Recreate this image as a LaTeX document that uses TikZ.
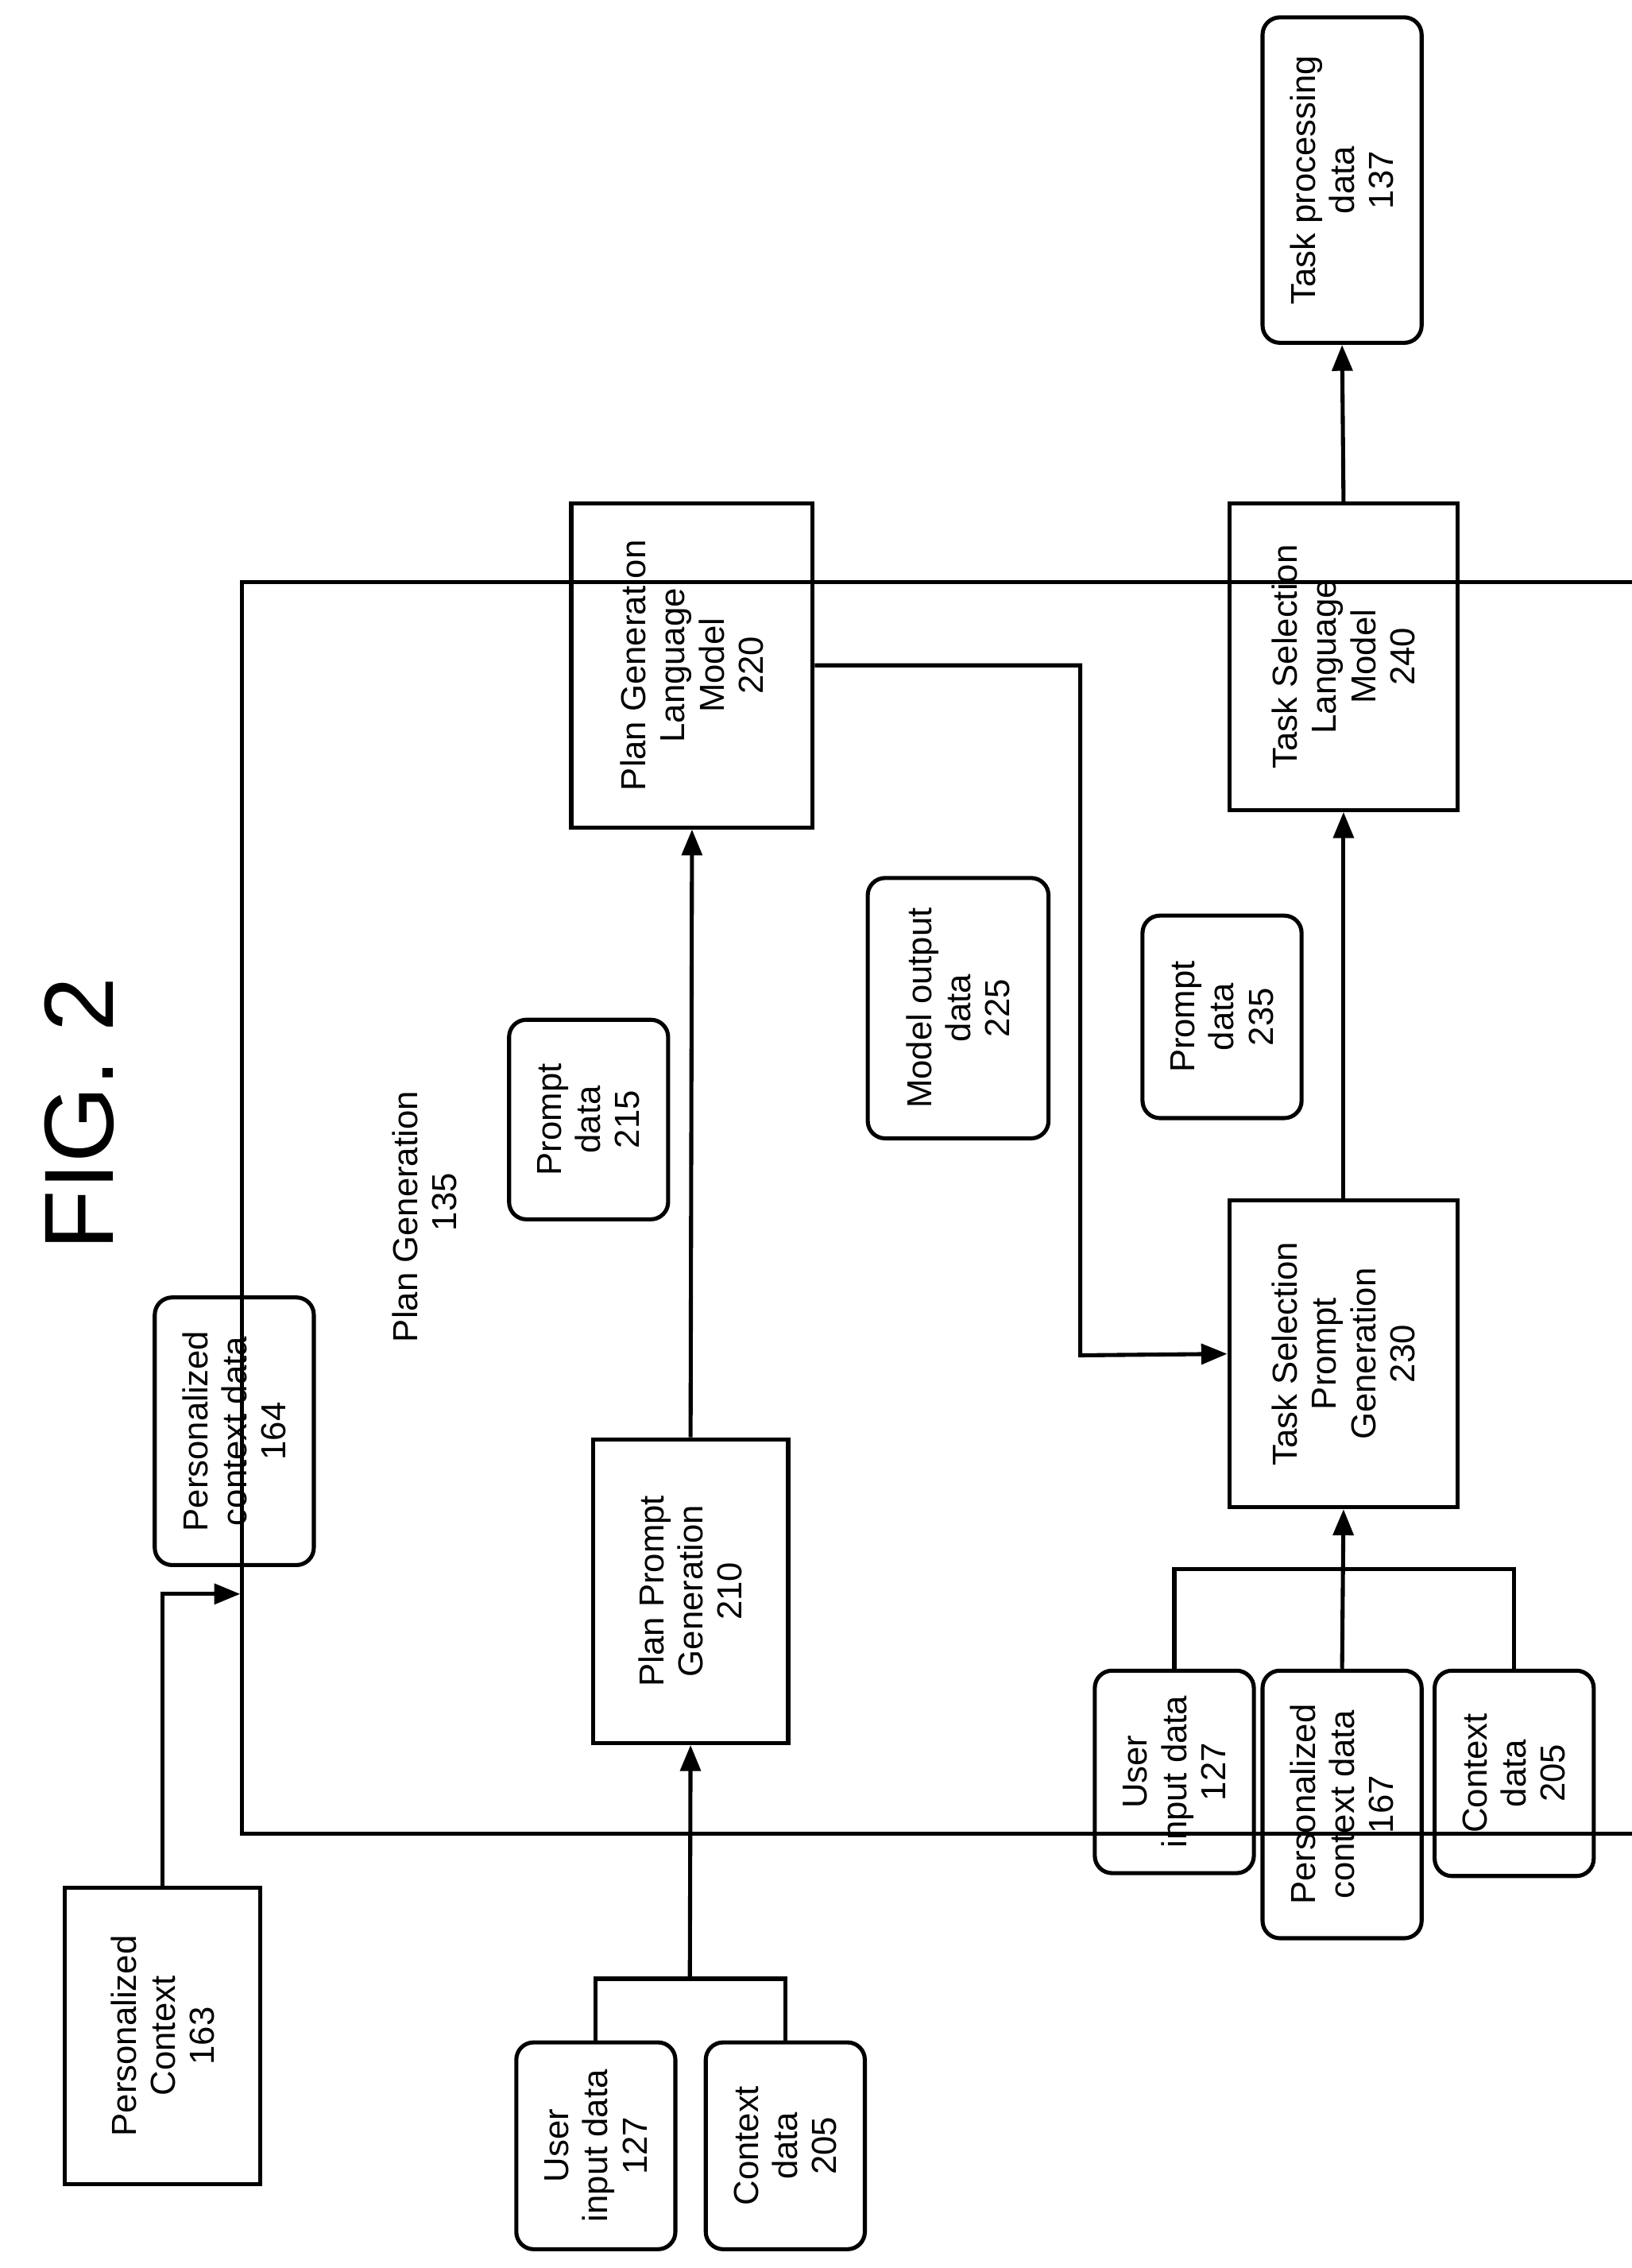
\documentclass[tikz,border=0pt]{standalone}
\usepackage{fontspec}
\setmainfont{Liberation Sans}
\usetikzlibrary{arrows.meta}
\begin{document}
\begin{tikzpicture}[x=0.5pt,y=-0.5pt,
  bx/.style={draw,line width=1.4pt,rotate=90,align=center,inner sep=0pt,font=\fontsize{12}{13.5}\selectfont},
  rb/.style={bx,rounded corners=6pt},
  ln/.style={line width=1.4pt},
  ar/.style={line width=1.4pt,-{Triangle[length=9pt,width=7pt]}}]
\useasboundingbox (0,0) rectangle (1128,1568);
\newcommand\mybox[6]{\node[#5,minimum width={(#4-#2)*0.5pt},minimum height={(#3-#1)*0.5pt}] (#6) at ({(#1+#3)/2},{(#2+#4)/2})}
\node[rotate=90,font=\fontsize{34}{38}\selectfont] (fig) at (55,770) {FIG. 2};
\node[draw,line width=1.4pt,minimum width={1030*0.5pt},minimum height={865*0.5pt}] (outer) at (682.5,835) {};
\node[rotate=90,align=left,anchor=north west,font=\fontsize{12}{13.5}\selectfont] (pglabel) at (264,935) {Plan Generation\\\hspace*{3.2em}135};
\mybox{45}{1305}{180}{1510}{bx}{pc}{Personalized\\Context\\163};
\mybox{357}{1412}{467}{1555}{rb}{ui1}{User\\input data\\127};
\mybox{488}{1412}{598}{1555}{rb}{cd1}{Context\\data\\205};
\mybox{107}{897}{217}{1082}{rb}{pcd}{Personalized\\context data\\164};
\mybox{410}{995}{545}{1205}{bx}{ppg}{Plan Prompt\\Generation\\210};
\mybox{352}{705}{462}{843}{rb}{pd1}{Prompt\\data\\215};
\mybox{395}{348}{562}{572}{bx}{pglm}{Plan Generation\\Language\\Model\\220};
\mybox{600}{607}{725}{787}{rb}{mod}{Model output\\data\\225};
\mybox{850}{830}{1008}{1042}{bx}{tspg}{Task Selection\\Prompt\\Generation\\230};
\mybox{790}{633}{900}{773}{rb}{pd2}{Prompt\\data\\235};
\mybox{850}{348}{1008}{560}{bx}{tslm}{Task Selection\\Language\\Model\\240};
\mybox{873}{12}{983}{237}{rb}{tpd}{Task processing\\data\\137};
\mybox{757}{1155}{867}{1295}{rb}{ui2}{User\\input data\\127};
\mybox{873}{1155}{983}{1340}{rb}{pcd2}{Personalized\\context data\\167};
\mybox{992}{1155}{1102}{1297}{rb}{cd2}{Context\\data\\205};
\coordinate (j1) at (477,1368);
\coordinate (j2) at (929,1085);
\coordinate (e1) at (outer.west |- 0,1102);
\draw[ar] (pc.east) |- (e1);
\draw[ln] (ui1.east) |- (j1) -| (cd1.east);
\draw[ar] (j1) -- (ppg.west);
\draw[ar] (ppg.east) -- (pglm.west);
\draw[ar] (pglm.south) -| (747,937) -- (tspg.north);
\draw[ln] (ui2.east) |- (j2) -| (cd2.east);
\draw[ar] (pcd2.east) -- (tspg.west);
\draw[ar] (tspg.east) -- (tslm.west);
\draw[ar] (tslm.east) -- (tpd.west);
\end{tikzpicture}
\end{document}
